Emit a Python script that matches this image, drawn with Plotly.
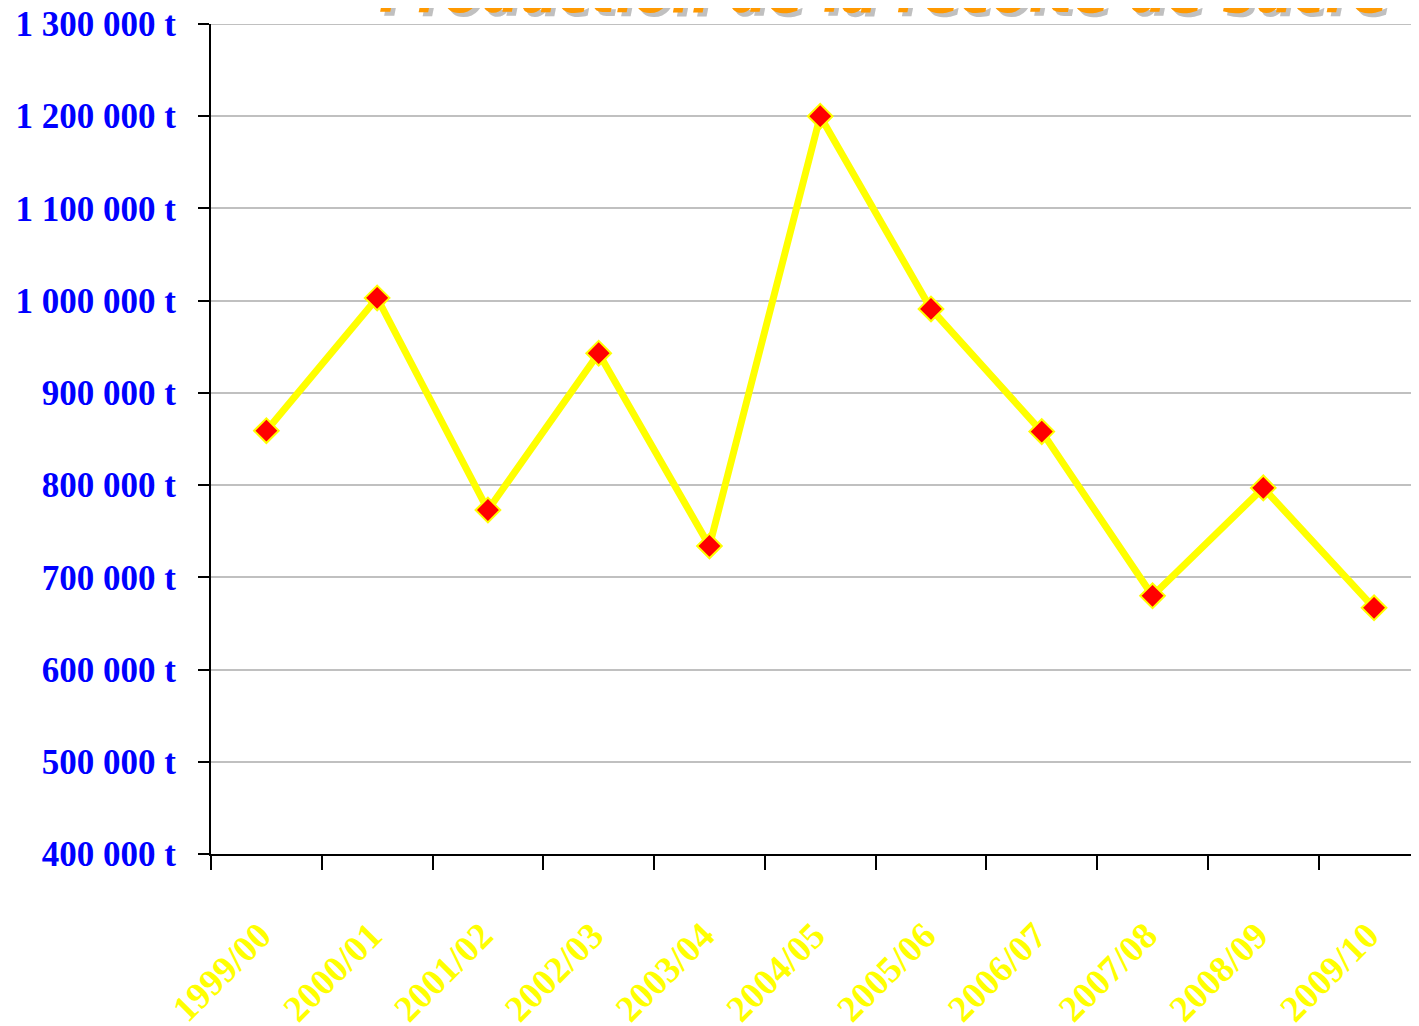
import plotly.graph_objects as go

categories = ["1999/00", "2000/01", "2001/02", "2002/03", "2003/04", "2004/05",
              "2005/06", "2006/07", "2007/08", "2008/09", "2009/10"]
tonnes = [859000, 1003000, 773000, 943000, 734000, 1200000,
          991000, 858000, 680000, 797000, 667000]
y_tick_vals = [400000, 500000, 600000, 700000, 800000, 900000,
               1000000, 1100000, 1200000, 1300000]
y_tick_text = ["400 000 t", "500 000 t", "600 000 t", "700 000 t", "800 000 t",
               "900 000 t", "1 000 000 t", "1 100 000 t", "1 200 000 t", "1 300 000 t"]
title_text = "Production de la récolte de sucre"

fig = go.Figure()
fig.add_trace(go.Scatter(
    x=categories, y=tonnes, mode="lines+markers",
    line=dict(color="#FFFF00", width=7),
    marker=dict(symbol="diamond", size=19, color="#FF0000",
                line=dict(color="#FFFF00", width=2)),
    cliponaxis=False, showlegend=False,
))

fig.update_layout(
    width=1419, height=1026,
    margin=dict(l=203, r=0, t=16, b=180),
    plot_bgcolor="white", paper_bgcolor="white",
    font=dict(family="Liberation Serif"),
)
# top gridline (plotly omits gridlines on the plot edge)
fig.add_shape(type="line", xref="paper", x0=0, x1=1, yref="y",
              y0=y_tick_vals[-1], y1=y_tick_vals[-1],
              line=dict(color="#C0C0C0", width=2), layer="below")

fig.update_xaxes(
    type="category", range=[-0.5, 10.478],
    tickangle=-45, ticks="outside", ticklen=14, tickwidth=2, tickcolor="black",
    tickson="boundaries", ticklabelstandoff=43, ticklabelshift=-6, automargin=False,
    ticklabeloverflow="allow",
    tickfont=dict(family="Liberation Serif", size=37, color="#FFFF00", weight="bold"),
    showline=True, linecolor="black", linewidth=2, showgrid=False, zeroline=False,
)
fig.update_yaxes(
    range=[400000, 1300000], automargin=False,
    tickmode="array", tickvals=y_tick_vals, ticktext=y_tick_text,
    ticks="outside", ticklen=11, tickwidth=2, tickcolor="black",
    ticklabelstandoff=15, ticklabeloverflow="allow",
    tickfont=dict(family="Liberation Serif", size=35, color="#0000FF", weight="bold"),
    showline=True, linecolor="black", linewidth=2,
    showgrid=True, gridcolor="#C0C0C0", gridwidth=2, zeroline=False,
)

for color, dx, dy in [("#C0C0C0", 4, -4), ("#FF9900", 0, 0)]:
    fig.add_annotation(
        text=title_text, xref="paper", yref="paper", x=0.553, y=1.0,
        xanchor="center", yanchor="bottom", showarrow=False,
        xshift=dx, yshift=dy - 3,
        font=dict(family="DejaVu Sans", size=54, color=color,
                  weight="bold", style="italic"),
    )

fig.write_html("out.html")
